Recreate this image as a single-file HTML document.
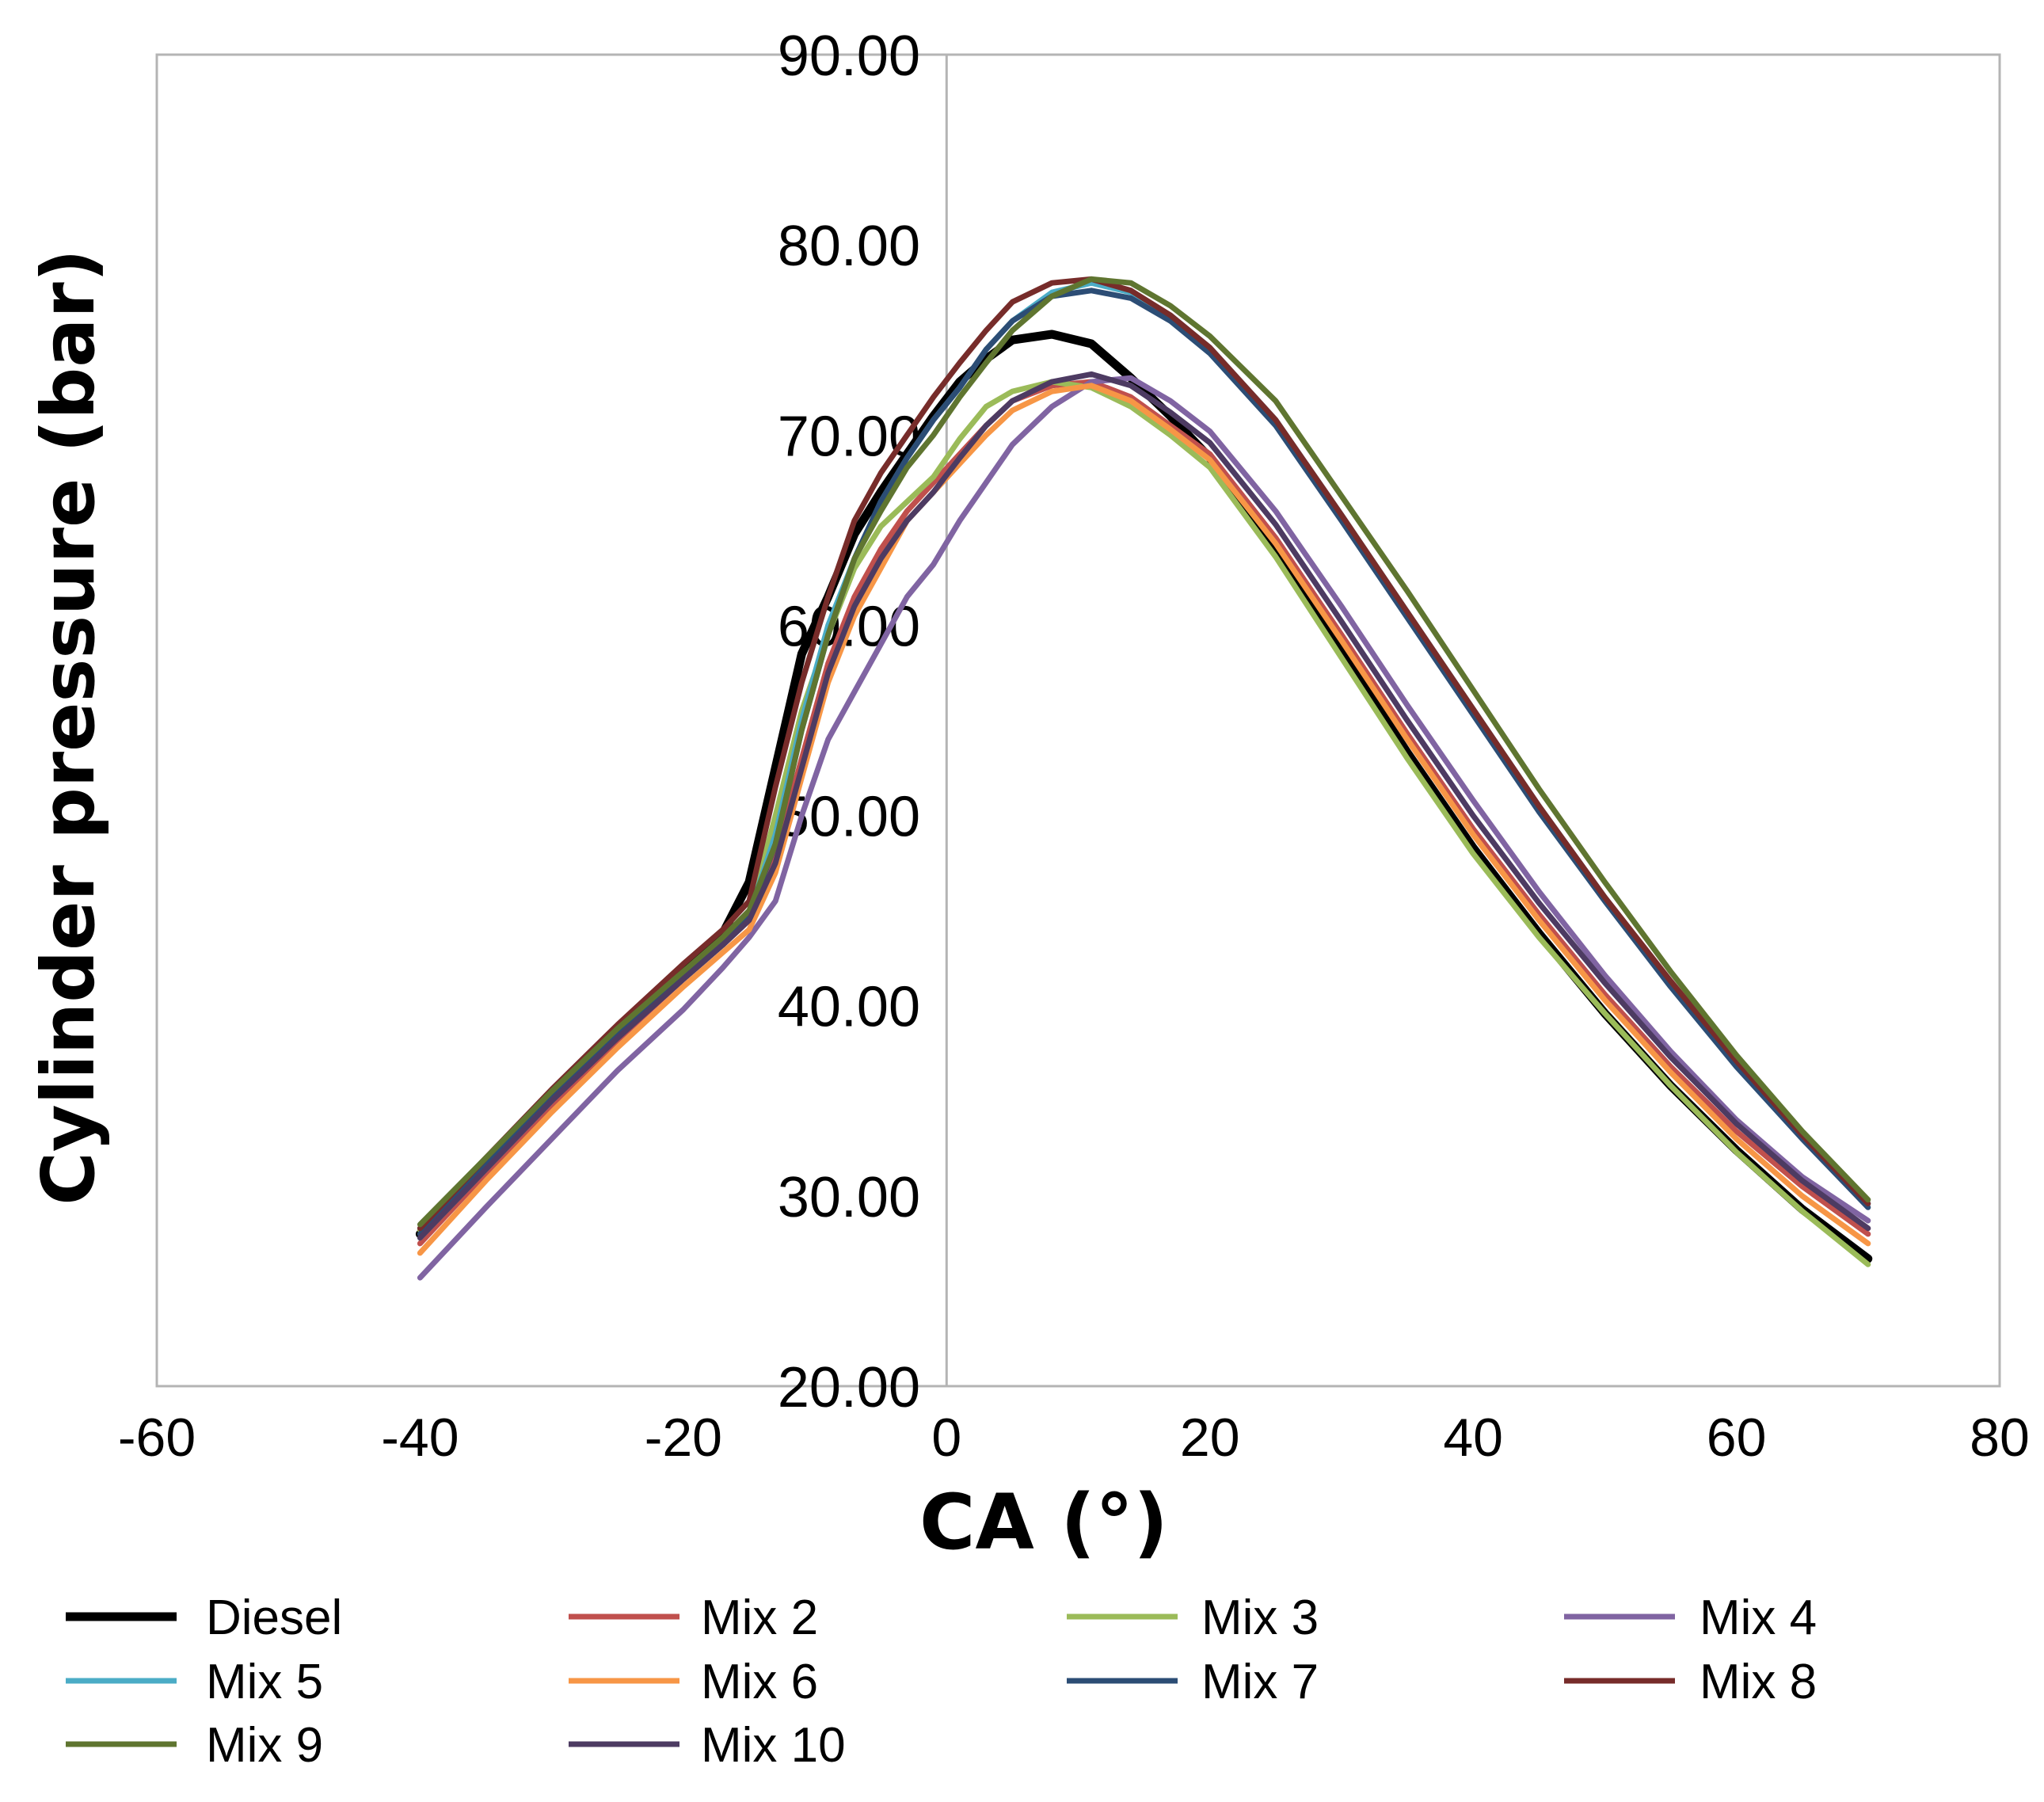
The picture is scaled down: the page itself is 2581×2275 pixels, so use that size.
<!DOCTYPE html>
<html><head><meta charset="utf-8">
<style>
html,body{margin:0;padding:0;background:#fff;}
svg{display:block;font-family:"Liberation Sans",Arial,sans-serif;}
</style></head>
<body>
<svg id="chart" width="2581" height="2275" viewBox="0 0 2581 2275" xmlns="http://www.w3.org/2000/svg">
<rect x="198" y="69" width="2327" height="1681" fill="#fff" stroke="#b4b4b4" stroke-width="3"/>
<g id="axes"></g>
<g id="series"></g>
<text x="118" y="918" font-size="92" font-weight="bold" text-anchor="middle" transform="rotate(-90 118 918)" font-family="'DejaVu Sans',sans-serif">Cylinder pressure (bar)</text>
<text x="1318" y="1955" font-size="96" font-weight="bold" text-anchor="middle" font-family="'DejaVu Sans',sans-serif">CA (°)</text>
<g id="legend"></g>
</svg>
<script>
const caValues = [-40,-35,-30,-25,-20,-17,-15,-13,-11,-9,-7,-5,-3,-1,1,3,5,8,11,14,17,20,25,30,35,40,45,50,55,60,65,70];
const seriesNames = ["Diesel","Mix 2","Mix 3","Mix 4","Mix 5","Mix 6","Mix 7","Mix 8","Mix 9","Mix 10"];
const diesel = [28.0,31.6,35.2,38.6,41.8,43.8,46.5,52.5,58.5,61.5,64.8,67.0,69.0,71.0,72.8,74.0,75.0,75.3,74.8,73.0,71.0,68.8,64.0,58.6,53.3,48.3,43.8,39.6,35.8,32.4,29.3,26.7];
const mix2 = [27.5,31.2,34.8,38.2,41.4,43.2,44.5,48,53,58,61.5,64,66,67.5,69,70.5,71.8,72.6,72.8,72.0,70.5,69.0,64.6,59.5,54.3,49.3,44.8,40.6,36.8,33.4,30.5,28.0];
const mix3 = [28.2,31.8,35.3,38.6,41.5,43.2,44.8,50,55.5,59.5,63,65.2,66.5,67.8,69.8,71.5,72.3,72.8,72.5,71.5,70.0,68.3,63.6,58.3,53.0,48.0,43.6,39.6,35.8,32.3,29.2,26.4];
const mix4 = [25.7,29.4,33.0,36.6,39.8,42.0,43.6,45.5,50,54,56.5,59,61.5,63.2,65.5,67.5,69.5,71.5,72.8,73.0,71.8,70.2,66.0,61.0,55.8,50.8,46.0,41.6,37.6,34.0,31.0,28.7];
const mix5 = [27.8,31.4,35.0,38.4,41.6,43.5,44.8,49,55,60,63.5,66.5,68.8,70.8,72.5,74.5,76.0,77.5,78.0,77.5,76.3,74.6,70.8,65.8,60.7,55.6,50.5,45.7,41.2,37.0,33.1,29.6];
const mix6 = [27.0,30.8,34.4,37.8,41.0,42.8,44.0,47,52,57,60.5,63,65.5,67,68.5,70,71.3,72.3,72.6,71.8,70.3,68.7,64.3,59.2,54.0,49.0,44.5,40.3,36.5,33.0,30.0,27.5];
const mix7 = [28.0,31.6,35.2,38.6,41.7,43.5,44.8,48.5,54.5,59.5,63.5,66.5,68.8,70.8,72.5,74.5,76.0,77.3,77.6,77.2,76.0,74.3,70.5,65.5,60.4,55.3,50.2,45.5,41.0,36.8,33.0,29.4];
const mix8 = [28.3,32.0,35.6,39.0,42.2,44.0,45.5,51.5,57,61.5,65.5,68,70,72,73.8,75.5,77.0,78.0,78.2,77.6,76.3,74.6,70.8,65.8,60.7,55.6,50.5,45.7,41.3,37.1,33.2,29.6];
const mix9 = [28.5,32.0,35.5,38.8,41.8,43.6,45.0,48.5,54.5,59.5,63.5,66,68.3,70,72,73.8,75.5,77.3,78.2,78.0,76.8,75.2,71.8,66.8,61.8,56.6,51.4,46.5,41.8,37.4,33.4,29.8];
const mix10 = [27.8,31.4,35.0,38.3,41.4,43.2,44.5,47.5,52.5,57.5,61,63.5,65.5,67,68.8,70.5,71.8,72.8,73.2,72.6,71.2,69.6,65.3,60.2,55.0,50.0,45.4,41.2,37.3,33.8,30.8,28.3];
const xTicks = [-60,-40,-20,0,20,40,60,80];
const yTicks = [20,30,40,50,60,70,80,90];
const yTickLabels = ["20.00","30.00","40.00","50.00","60.00","70.00","80.00","90.00"];

const allSeries = [diesel,mix2,mix3,mix4,mix5,mix6,mix7,mix8,mix9,mix10];
const colors = ["#000000","#c0504d","#9bbb59","#8064a2","#4bacc6","#f79646","#2c4d75","#772c2a","#5f7530","#4d3b62"];
const widths = [11,7,7,7,7,7,7,7,7,7];
const NS = "http://www.w3.org/2000/svg";
const L=198,R=2525,T=69,B=1750;
function xs(v){return L+(v-(-60))/(80-(-60))*(R-L);}
function ys(v){return B-(v-20)/(90-20)*(B-T);}

const axes=document.getElementById('axes');
const zl=document.createElementNS(NS,'line');
zl.setAttribute('x1',xs(0));zl.setAttribute('x2',xs(0));zl.setAttribute('y1',T);zl.setAttribute('y2',B);
zl.setAttribute('stroke','#b4b4b4');zl.setAttribute('stroke-width','3');


axes.appendChild(zl);
xTicks.forEach(function(t){
  const el=document.createElementNS(NS,'text');
  el.setAttribute('x',xs(t));el.setAttribute('y',1838);
  el.setAttribute('font-size','68');el.setAttribute('text-anchor','middle');
  el.textContent=String(t);
  
  
  axes.appendChild(el);
});
yTicks.forEach(function(t,i){
  const el=document.createElementNS(NS,'text');
  el.setAttribute('x',1162);el.setAttribute('y',ys(t)+26);
  el.setAttribute('font-size','72');el.setAttribute('text-anchor','end');
  el.textContent=yTickLabels[i];
  
  
  axes.appendChild(el);
});

const sg=document.getElementById('series');
allSeries.forEach(function(s,i){
  let d='';
  s.forEach(function(v,j){d+=(j?'L':'M')+xs(caValues[j]).toFixed(1)+' '+ys(v).toFixed(1);});
  const p=document.createElementNS(NS,'path');
  p.setAttribute('d',d);p.setAttribute('fill','none');
  p.setAttribute('stroke',colors[i]);p.setAttribute('stroke-width',widths[i]);
  p.setAttribute('stroke-linejoin','round');p.setAttribute('stroke-linecap','round');
  
  
  sg.appendChild(p);
});

const lg=document.getElementById('legend');
const colX=[83,718,1347,1975];
const textX=[260,885,1517,2146];
const rowY=[2041,2122,2202];
seriesNames.forEach(function(n,i){
  const c=i%4,r=Math.floor(i/4);
  const ln=document.createElementNS(NS,'line');
  ln.setAttribute('x1',colX[c]);ln.setAttribute('x2',colX[c]+140);
  ln.setAttribute('y1',rowY[r]);ln.setAttribute('y2',rowY[r]);
  ln.setAttribute('stroke',colors[i]);ln.setAttribute('stroke-width',i===0?11:7);
  
  
  lg.appendChild(ln);
  const tx=document.createElementNS(NS,'text');
  tx.setAttribute('x',textX[c]);tx.setAttribute('y',rowY[r]+22);
  tx.setAttribute('font-size','62');
  tx.textContent=n;
  
  
  lg.appendChild(tx);
});
</script>
</body></html>
